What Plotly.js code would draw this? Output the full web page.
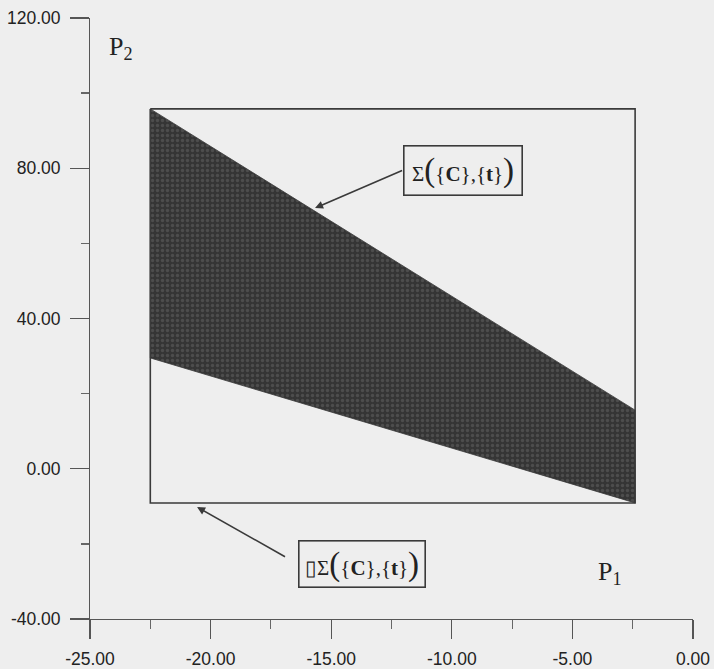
<!DOCTYPE html>
<html>
<head>
<meta charset="utf-8">
<script src="https://cdn.plot.ly/plotly-3.0.1.min.js"></script>
<style>
  html, body { margin: 0; padding: 0; background: #eeeeee; }
  #chart { width: 714px; height: 669px; }
</style>
</head>
<body>
<div id="chart"></div>
<script>
// ---- data ----
const rectX = [-22.5, -2.4, -2.4, -22.5, -22.5];
const rectY = [95.8, 95.8, -9.1, -9.1, 95.8];
const polyX = [-22.5, -2.4, -2.4, -22.5];
const polyY = [95.8, 15.6, -9.1, 29.5];

const xTickVals = [-25, -20, -15, -10, -5, 0];
const xTickText = ["-25.00", "-20.00", "-15.00", "-10.00", "-5.00", "0.00"];
const xMinorVals = [-22.5, -17.5, -12.5, -7.5, -2.5];
const yTickVals = [-40, 0, 40, 80, 120];
const yTickText = ["-40.00", "0.00", "40.00", "80.00", "120.00"];
const yMinorVals = [-20, 20, 60, 100];

const bigParen = (c) => "<span style='font-size:33px'>" + c + "</span>";
const labelSigma = "Σ" + bigParen("(") + "{<b>C</b>},{<b>t</b>}" + bigParen(")");
const labelBoundary = "▯Σ" + bigParen("(") + "{<b>C</b>},{<b>t</b>}" + bigParen(")");

const bg = '#eeeeee';
const ink = '#3a3a3a';

const traces = [
  {
    type: 'scatter', mode: 'lines',
    x: polyX.concat([polyX[0]]), y: polyY.concat([polyY[0]]),
    fill: 'toself', fillcolor: '#3a3a3a',
    fillpattern: {shape: '.', bgcolor: '#353535', fgcolor: '#4d4d4d', size: 5, solidity: 0.35},
    line: {color: '#383838', width: 0.8},
    hoverinfo: 'skip', showlegend: false
  },
  {
    type: 'scatter', mode: 'lines',
    x: rectX, y: rectY,
    line: {color: ink, width: 1.6},
    hoverinfo: 'skip', showlegend: false
  }
];

const tickFont = {family: '"Liberation Sans", Arial, sans-serif', size: 17.5, color: '#222'};
const serif = '"Liberation Serif", "Times New Roman", serif';

const layout = {
  width: 714, height: 669,
  margin: {l: 90, r: 21, t: 18, b: 50, pad: 0},
  paper_bgcolor: bg, plot_bgcolor: bg,
  showlegend: false,
  xaxis: {
    range: [-25, 0], showgrid: false, zeroline: false,
    showline: true, linecolor: '#555', linewidth: 1,
    ticks: 'outside', ticklen: 19, tickcolor: '#555', tickwidth: 1.2,
    tickvals: xTickVals, ticktext: xTickText, tickfont: tickFont,
    ticklabelstandoff: 5,
    minor: {tickvals: xMinorVals, ticks: 'outside', ticklen: 9, tickcolor: '#666', tickwidth: 1, showgrid: false}
  },
  yaxis: {
    range: [-40, 120], showgrid: false, zeroline: false,
    showline: true, linecolor: '#555', linewidth: 1,
    ticks: 'outside', ticklen: 19, tickcolor: '#555', tickwidth: 1.2,
    tickvals: yTickVals, ticktext: yTickText, tickfont: tickFont,
    ticklabelstandoff: 6,
    minor: {tickvals: yMinorVals, ticks: 'outside', ticklen: 8, tickcolor: '#666', tickwidth: 1.5, showgrid: false}
  },
  annotations: [
    // boxed labels with arrows starting at the box's left-middle
    {x: -15.67, y: 69.4, xref: 'x', yref: 'y', text: labelSigma,
     showarrow: true, ax: 88, ay: -38, xanchor: 'left', yanchor: 'middle',
     arrowhead: 2, arrowsize: 1, arrowwidth: 1.6, arrowcolor: ink, startstandoff: 1,
     font: {family: serif, size: 21, color: '#222'},
     bordercolor: ink, borderwidth: 1.6, borderpad: 2, bgcolor: bg,
     width: 113, height: 44},
    {x: -20.56, y: -10.2, xref: 'x', yref: 'y', text: labelBoundary,
     showarrow: true, ax: 101, ay: 57, xanchor: 'left', yanchor: 'middle',
     arrowhead: 2, arrowsize: 1, arrowwidth: 1.6, arrowcolor: ink, startstandoff: 15,
     font: {family: serif, size: 21, color: '#222'},
     bordercolor: ink, borderwidth: 1.6, borderpad: 2, bgcolor: bg,
     width: 121, height: 41},
    // axis name labels
    {x: -23.71, y: 112, xref: 'x', yref: 'y', text: 'P<sub>2</sub>', showarrow: false,
     font: {family: serif, size: 26, color: '#222'}},
    {x: -3.44, y: -27.8, xref: 'x', yref: 'y', text: 'P<sub>1</sub>', showarrow: false,
     font: {family: serif, size: 26, color: '#222'}}
  ]
};

Plotly.newPlot('chart', traces, layout, {staticPlot: true, displayModeBar: false});
</script>
</body>
</html>
